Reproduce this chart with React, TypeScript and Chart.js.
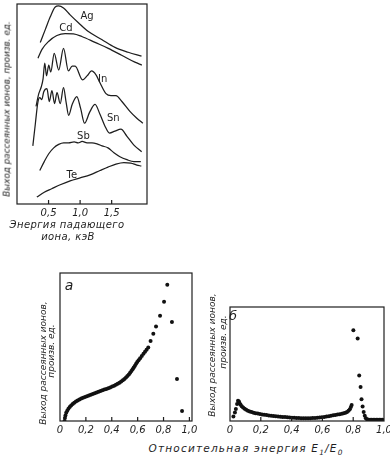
import React, { useEffect, useRef } from 'react';
import { Chart, registerables } from 'chart.js';

Chart.register(...registerables);

const INK = '#1e1e1e';
const FONT = 'DejaVu Sans';

// ---------- Top panel: yield vs. incident ion energy (keV) ----------
const topTicks = [0.5, 1.0, 1.5];

const AG: [number, number][] = [
  [0.369, 164], [0.448, 177], [0.527, 190], [0.606, 200], [0.658, 201], [0.737, 199],
  [0.842, 192], [0.973, 184], [1.131, 175], [1.342, 167], [1.552, 159], [1.762, 154], [1.973, 150],
];
const CD: [number, number][] = [
  [0.333, 148], [0.396, 157], [0.5, 165], [0.632, 171], [0.763, 173], [0.894, 172.7],
  [1.027, 170], [1.237, 164], [1.446, 158], [1.658, 151], [1.868, 144], [1.978, 141],
];
const IN: [number, number][] = [
  [0.301, 99], [0.345, 112], [0.385, 119], [0.413, 127], [0.44, 143], [0.468, 130],
  [0.503, 141], [0.535, 134], [0.59, 153], [0.661, 136], [0.737, 158], [0.815, 135],
  [0.874, 140], [0.921, 140], [1.039, 126], [1.11, 130], [1.181, 135], [1.252, 131],
  [1.315, 123], [1.41, 112], [1.489, 110], [1.568, 110], [1.662, 104], [1.789, 94],
  [1.899, 87], [1.994, 82],
];
const SN: [number, number][] = [
  [0.251, 59], [0.29, 81], [0.33, 103], [0.361, 108], [0.393, 106], [0.424, 114],
  [0.475, 117], [0.511, 104], [0.554, 115], [0.595, 102], [0.634, 113], [0.685, 102],
  [0.737, 118], [0.779, 103], [0.819, 90], [0.874, 101], [0.948, 109], [1.008, 97],
  [1.071, 82], [1.15, 93], [1.237, 101], [1.315, 91], [1.394, 79], [1.465, 72],
  [1.552, 74], [1.647, 76], [1.74, 69], [1.849, 60], [1.975, 53],
];
const SB: [number, number][] = [
  [0.361, 34], [0.432, 43], [0.503, 51], [0.582, 57], [0.661, 60.5], [0.74, 62],
  [0.819, 62], [0.905, 63], [0.968, 62], [1.032, 63.5], [1.11, 62], [1.189, 62],
  [1.268, 61], [1.347, 59], [1.442, 57], [1.536, 52], [1.631, 48], [1.741, 45],
  [1.852, 43], [1.962, 43],
];
const TE: [number, number][] = [
  [0.314, 7], [0.432, 12], [0.55, 15.5], [0.685, 19.5], [0.842, 23.5], [1.0, 26.5],
  [1.158, 29.5], [1.315, 34], [1.442, 37.5], [1.568, 40.5], [1.694, 42], [1.804, 41.5],
  [1.899, 39.5], [1.97, 38.5],
];
const topSeries = [AG, CD, IN, SN, SB, TE];
const topNames = ['Ag', 'Cd', 'In', 'Sn', 'Sb', 'Te'];
const topNameAt: [number, number][] = [
  [1.11, 190], [0.774, 178], [1.358, 126], [1.525, 87], [1.052, 69], [0.869, 29],
];

// ---------- Bottom panels: yield vs. relative energy E1/E0 ----------
const relTicks = [0, 0.2, 0.4, 0.6, 0.8, 1.0];

const PANEL_A: [number, number][] = [
  [0.035, 0.0], [0.038, 0.02], [0.042, 0.038], [0.048, 0.055], [0.056, 0.07], [0.065, 0.083],
  [0.075, 0.095], [0.086, 0.105], [0.098, 0.115], [0.11, 0.124], [0.123, 0.132], [0.136, 0.139],
  [0.15, 0.146], [0.164, 0.152], [0.178, 0.157], [0.193, 0.162], [0.208, 0.167], [0.223, 0.172],
  [0.238, 0.177], [0.253, 0.182], [0.268, 0.187], [0.283, 0.192], [0.298, 0.197], [0.313, 0.202],
  [0.328, 0.207], [0.343, 0.212], [0.358, 0.217], [0.373, 0.222], [0.388, 0.227], [0.403, 0.233],
  [0.418, 0.239], [0.432, 0.245], [0.446, 0.252], [0.46, 0.259], [0.473, 0.267], [0.486, 0.275],
  [0.498, 0.284], [0.51, 0.294], [0.521, 0.304], [0.532, 0.315], [0.542, 0.326], [0.552, 0.338],
  [0.561, 0.35], [0.57, 0.362], [0.579, 0.374], [0.588, 0.386], [0.597, 0.398], [0.607, 0.41],
  [0.619, 0.424], [0.632, 0.44], [0.645, 0.455], [0.657, 0.468], [0.669, 0.482], [0.682, 0.497],
  [0.7, 0.541], [0.721, 0.589], [0.742, 0.638], [0.773, 0.711], [0.804, 0.806], [0.829, 0.921],
  [0.865, 0.669], [0.904, 0.283], [0.943, 0.068],
];
const PANEL_B: [number, number][] = [
  [0.022, 0.04], [0.032, 0.075], [0.038, 0.105], [0.046, 0.15], [0.052, 0.178], [0.058, 0.172],
  [0.062, 0.155], [0.068, 0.145], [0.076, 0.13], [0.085, 0.118], [0.095, 0.107], [0.105, 0.098],
  [0.116, 0.09], [0.128, 0.084], [0.14, 0.078], [0.153, 0.073], [0.166, 0.069], [0.18, 0.065],
  [0.194, 0.061], [0.208, 0.058], [0.222, 0.055], [0.237, 0.052], [0.252, 0.049], [0.267, 0.046],
  [0.282, 0.044], [0.297, 0.042], [0.312, 0.04], [0.327, 0.038], [0.342, 0.036], [0.357, 0.034],
  [0.372, 0.032], [0.387, 0.03], [0.402, 0.029], [0.417, 0.028], [0.432, 0.027], [0.447, 0.026],
  [0.462, 0.025], [0.477, 0.024], [0.492, 0.024], [0.507, 0.024], [0.522, 0.025], [0.537, 0.026],
  [0.552, 0.027], [0.567, 0.029], [0.582, 0.031], [0.597, 0.033], [0.612, 0.036], [0.627, 0.039],
  [0.642, 0.042], [0.656, 0.046], [0.67, 0.05], [0.684, 0.053], [0.698, 0.056], [0.712, 0.06],
  [0.726, 0.063], [0.738, 0.067], [0.75, 0.072], [0.76, 0.08], [0.77, 0.09], [0.778, 0.104],
  [0.785, 0.122], [0.79, 0.14], [0.801, 0.797], [0.829, 0.724], [0.839, 0.399], [0.848, 0.299],
  [0.854, 0.19], [0.861, 0.128], [0.868, 0.08], [0.875, 0.045], [0.882, 0.025], [0.89, 0.015],
  [0.9, 0.012], [0.91, 0.012], [0.92, 0.012], [0.93, 0.012], [0.94, 0.012], [0.95, 0.012],
  [0.96, 0.012], [0.97, 0.012], [0.98, 0.012], [0.99, 0.012],
];

const fmt = (v: number) => (v === 0 ? '0' : Number(v).toFixed(1).replace('.', ','));

const framePlugin = {
  id: 'frame',
  afterDraw(chart: any) {
    const { ctx, chartArea: a, scales } = chart;
    ctx.save();
    ctx.strokeStyle = INK;
    ctx.lineWidth = 1.2;
    ctx.strokeRect(a.left, a.top, a.right - a.left, a.bottom - a.top);
    const xs = scales.x;
    ctx.beginPath();
    for (const t of xs.ticks) {
      const px = xs.getPixelForValue(t.value);
      if (px <= a.left + 1 || px >= a.right - 1) continue;
      ctx.moveTo(px, a.bottom);
      ctx.lineTo(px, a.bottom - 4);
    }
    ctx.stroke();
    ctx.restore();
  },
};

const namesPlugin = {
  id: 'curveNames',
  afterDraw(chart: any, _args: any, opts: any) {
    if (!opts || !opts.names) return;
    const { ctx, scales } = chart;
    ctx.save();
    ctx.fillStyle = INK;
    ctx.font = `10px "${FONT}"`;
    ctx.textAlign = 'center';
    ctx.textBaseline = 'middle';
    opts.names.forEach((n: string, i: number) => {
      const [x, y] = opts.at[i];
      ctx.fillText(n, scales.x.getPixelForValue(x), scales.y.getPixelForValue(y));
    });
    ctx.restore();
  },
};

const tickFont = { family: FONT, size: 10, style: 'italic' as const };

function xScale(min: number, max: number, ticks: number[]) {
  return {
    type: 'linear',
    min,
    max,
    grid: { display: false, drawTicks: false },
    border: { display: false },
    ticks: { font: tickFont, color: INK, padding: 3, callback: (v: any) => fmt(Number(v)), autoSkip: false, maxRotation: 0 },
    afterBuildTicks: (ax: any) => {
      ax.ticks = ticks.map((v) => ({ value: v }));
    },
  };
}

function baseOptions(padding: any, x: any, yMax: number, extra: any = {}) {
  return {
    responsive: false,
    animation: false,
    events: [],
    layout: { padding },
    plugins: { legend: { display: false }, tooltip: { enabled: false }, ...extra },
    scales: { x, y: { display: false, min: 0, max: yMax } },
  };
}

function ChartCanvas({ left, top, width, height, make }: any) {
  const ref = useRef<HTMLCanvasElement>(null);
  useEffect(() => {
    const c = new Chart(ref.current as HTMLCanvasElement, make());
    return () => c.destroy();
  }, []);
  return <canvas ref={ref} width={width} height={height} style={{ position: 'absolute', left, top }} />;
}

const makeTop = () => ({
  type: 'line',
  data: {
    datasets: topSeries.map((s) => ({
      data: s.map(([x, y]) => ({ x, y })),
      borderColor: INK,
      borderWidth: 1.25,
      pointRadius: 0,
      cubicInterpolationMode: 'monotone',
      fill: false,
    })),
  },
  options: baseOptions({ left: 17, top: 4, right: 18, bottom: 0 }, xScale(0, 2.06, topTicks), 203, {
    curveNames: { names: topNames, at: topNameAt },
  }),
  plugins: [framePlugin, namesPlugin],
});

const makeDots = (pts: [number, number][], padding: any, max: number) => () => ({
  type: 'scatter',
  data: {
    datasets: [
      {
        data: pts.map(([x, y]) => ({ x, y })),
        backgroundColor: '#111',
        borderWidth: 0,
        pointRadius: 2,
      },
    ],
  },
  options: baseOptions(padding, xScale(0, max, relTicks), 1),
  plugins: [framePlugin],
});

const text: any = { position: 'absolute', whiteSpace: 'nowrap', fontStyle: 'italic', lineHeight: 1, width: 'max-content' };
const VText = ({ x, y, size, spacing = 0, children }: any) => (
  <div style={{ ...text, left: x, top: y, fontSize: size, letterSpacing: spacing, transform: 'translate(-50%,-50%) rotate(-90deg)' }}>{children}</div>
);
const HText = ({ x, y, size, spacing = 0, children }: any) => (
  <div style={{ ...text, left: x, top: y, fontSize: size, letterSpacing: spacing, transform: 'translate(-50%,-50%)' }}>{children}</div>
);

export default function App() {
  return (
    <div style={{ position: 'absolute', left: 0, top: 0, width: 390, height: 459, overflow: 'hidden', background: '#fff', fontFamily: FONT, color: INK }}>
      <ChartCanvas left={0} top={0} width={165} height={222} make={makeTop} />
      <ChartCanvas left={40} top={262} width={165} height={180} make={makeDots(PANEL_A, { left: 20, top: 11, right: 13, bottom: 3 }, 1.02)} />
      <ChartCanvas left={215} top={295} width={185} height={147} make={makeDots(PANEL_B, { left: 15, top: 12, right: 16, bottom: 3 }, 1.0)} />

      <VText x={7} y={109} size={8.8}>Выход рассеянных ионов, произв. ед.</VText>
      <HText x={67} y={225} size={10} spacing={0.4}>Энергия падающего</HText>
      <HText x={68} y={237} size={10} spacing={0.4}>иона, кэВ</HText>

      <VText x={43} y={363} size={9}>Выход рассеянных ионов,</VText>
      <VText x={51} y={351} size={9}>произв. ед.</VText>
      <VText x={212} y={355} size={9}>Выход рассеянных ионов,</VText>
      <VText x={223} y={342} size={9}>произв. ед.</VText>

      <HText x={69} y={285} size={14}>а</HText>
      <HText x={233} y={315} size={13}>б</HText>

      <HText x={246} y={450} size={10.5} spacing={1.2}>
        Относительная энергия E<sub style={{ fontSize: '0.7em' }}>1</sub>/E<sub style={{ fontSize: '0.7em' }}>0</sub>
      </HText>
    </div>
  );
}
